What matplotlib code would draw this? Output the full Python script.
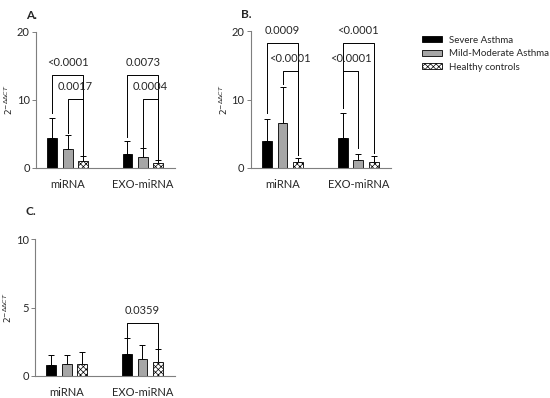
import matplotlib.pyplot as plt
import matplotlib.patches as mpatches

plt.rcParams['font.family'] = ['Lato', 'DejaVu Sans']
plt.rcParams['hatch.linewidth'] = 0.5

categories = ["miRNA", "EXO-miRNA"]
groups = ["Severe Asthma", "Mild-Moderate Asthma", "Healthy controls"]

# means per group (severe, mild-moderate, healthy) for each category
a_means = [[4.4, 2.8, 1.0], [2.1, 1.6, 0.7]]
a_errs = [[2.95, 2.0, 0.8], [1.8, 1.3, 0.4]]
b_means = [[3.9, 6.6, 0.9], [4.4, 1.1, 0.8]]
b_errs = [[3.2, 5.2, 0.6], [3.7, 1.0, 0.9]]
c_means = [[0.8, 0.85, 0.9], [1.6, 1.25, 1.0]]
c_errs = [[0.75, 0.7, 0.85], [1.15, 1.05, 0.95]]

# brackets: (category, bar i, bar j, top, left leg end, right leg end, label)
a_brackets = [(0, 0, 2, 13.7, 8.1, 1.9, "<0.0001"),
              (0, 1, 2, 10.1, 5.1, 1.9, "0.0017"),
              (1, 0, 2, 13.7, 4.5, 1.2, "0.0073"),
              (1, 1, 2, 10.1, 3.1, 1.2, "0.0004")]
b_brackets = [(0, 0, 2, 18.3, 8.0, 1.9, "0.0009"),
              (0, 1, 2, 14.2, 12.2, 1.9, "<0.0001"),
              (1, 0, 2, 18.3, 8.7, 2.2, "<0.0001"),
              (1, 0, 1, 14.2, 8.7, 2.9, "<0.0001")]
c_brackets = [(1, 0, 2, 3.9, 2.85, 1.9, "0.0359")]

face = ["black", "#a6a6a6", "white"]
hatch = [None, None, "xxxxxx"]
offset = 0.205
width = 0.13
axis_col = "#7f7f7f"
txt_col = "#262626"


def draw(ax, means, errs, brackets, ymax, ticks, letter, letter_y):
    for g in range(3):
        xs = [c + (g - 1) * offset for c in range(len(categories))]
        hs = [means[c][g] for c in range(len(categories))]
        es = [errs[c][g] for c in range(len(categories))]
        ax.bar(xs, hs, width=width, color=face[g], edgecolor="black",
               linewidth=0.6, hatch=hatch[g], zorder=2)
        ax.errorbar(xs, hs, yerr=[[0] * len(es), es], fmt="none",
                    ecolor="black", elinewidth=0.7, capsize=2.5,
                    capthick=0.7, zorder=1)
    for c, i, j, top, yl, yr, lab in brackets:
        x1 = c + (i - 1) * offset
        x2 = c + (j - 1) * offset
        ax.plot([x1, x1, x2, x2], [yl, top, top, yr], color="black",
                linewidth=0.7)
        ax.text((x1 + x2) / 2, top + ymax * 0.05, lab, ha="center",
                va="bottom", fontsize=8, color=txt_col)
    ax.set_xlim(-0.42, 1.43)
    ax.set_ylim(0, ymax)
    ax.set_yticks(ticks)
    ax.set_xticks(range(len(categories)))
    ax.set_xticklabels(categories)
    ax.tick_params(axis="x", length=0, pad=8, labelsize=8, labelcolor=txt_col)
    ax.tick_params(axis="y", length=3, width=0.7, color=axis_col,
                   labelsize=8, labelcolor=txt_col, pad=1.5)
    for s in ["top", "right"]:
        ax.spines[s].set_visible(False)
    for s in ["left", "bottom"]:
        ax.spines[s].set_color(axis_col)
        ax.spines[s].set_linewidth(0.8)
    ax.set_ylabel(r"$2^{-\Delta\Delta CT}$", fontsize=6.5, color=txt_col,
                  labelpad=1)
    ax.text(-0.07, letter_y, letter, transform=ax.transAxes, fontsize=8.5,
            fontweight="bold", color=txt_col, ha="left", va="center")


fig = plt.figure(figsize=(5.5, 3.98), dpi=100)
ax_a = fig.add_axes([0.0655, 0.578, 0.253, 0.342])
ax_b = fig.add_axes([0.456, 0.578, 0.2545, 0.344])
ax_c = fig.add_axes([0.0636, 0.0553, 0.2545, 0.344])

draw(ax_a, a_means, a_errs, a_brackets, 20, [0, 10, 20], "A.", 1.12)
draw(ax_b, b_means, b_errs, b_brackets, 20, [0, 10, 20], "B.", 1.12)
draw(ax_c, c_means, c_errs, c_brackets, 10, [0, 5, 10], "C.", 1.2)

handles = [mpatches.Patch(facecolor=face[g], edgecolor="black", linewidth=0.6,
                          hatch=hatch[g], label=groups[g]) for g in range(3)]
fig.legend(handles=handles, loc="upper left", bbox_to_anchor=(0.752, 0.932),
           frameon=False, fontsize=7, handlelength=2.0, handleheight=0.6,
           handletextpad=0.7, labelspacing=0.45, labelcolor=txt_col)

plt.savefig("out.png", dpi=100)
